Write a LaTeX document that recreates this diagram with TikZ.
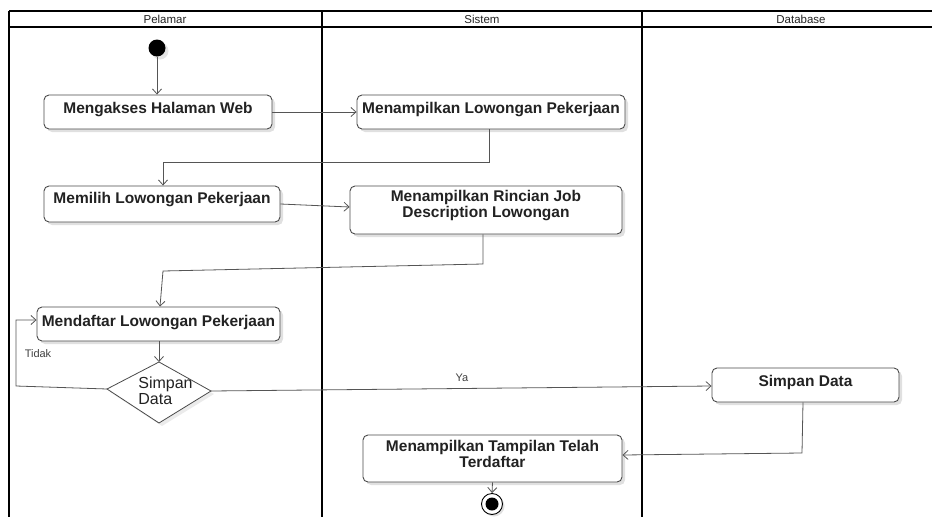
\documentclass[tikz,border=0pt]{standalone}
\usepackage{fontspec}
\setmainfont{Liberation Sans}
\usetikzlibrary{arrows.meta,shadows}
\definecolor{edge}{HTML}{555555}
\definecolor{boxline}{HTML}{4A4A4A}
\definecolor{ink}{HTML}{222222}
\begin{document}
\begin{tikzpicture}[x=1pt,y=-1pt,
  lane/.style={line width=2pt,black},
  act/.style={draw=boxline,line width=0.9pt,fill=white,rounded corners=5pt,
    inner sep=0pt,align=center,text=ink,
    font=\fontsize{15.5}{14}\selectfont\bfseries,
    drop shadow={shadow xshift=3pt,shadow yshift=-3pt,fill=black!12,opacity=1}},
  flow/.style={draw=edge,line width=0.8pt,-{Straight Barb[length=5pt,width=9pt]}},
  lanehead/.style={font=\fontsize{11.5}{13}\selectfont,text=ink},
  small/.style={font=\fontsize{11}{12}\selectfont,text=black!75}]
\useasboundingbox (0,0) rectangle (932,517);

% swimlanes
\draw[line width=1.5pt] (9,11) -- (932,11);
\draw[line width=1.5pt] (9,27) -- (932,27);
\draw[lane] (9,11) -- (9,517);
\draw[lane] (322,11) -- (322,517);
\draw[lane] (642,11) -- (642,517);
\node[lanehead] (hp) at (165,19) {Pelamar};
\node[lanehead] (hs) at (482,19) {Sistem};
\node[lanehead] (hd) at (801,19) {Database};

% start
\fill[black!10] (160,51) circle (8.5);
\node[circle,fill=black,minimum size=17pt,inner sep=0pt] (start) at (157,48) {};

% activities
\node[act,minimum width=228pt,text height=18pt,text depth=16pt] (akses) at (158,112) {Mengakses Halaman Web};
\node[act,minimum width=268pt,text height=18pt,text depth=16pt] (tampil) at (491,112) {Menampilkan Lowongan Pekerjaan};
\node[act,minimum width=236pt,text height=17pt,text depth=19pt] (pilih) at (162,204) {Memilih Lowongan Pekerjaan};
\node[act,minimum width=272pt,text height=31pt,text depth=17pt] (rincian) at (486,210) {Menampilkan Rincian Job\\Description Lowongan};
\node[act,minimum width=243pt,text height=19pt,text depth=15pt] (daftar) at (158.5,324) {Mendaftar Lowongan Pekerjaan};
\node[act,minimum width=187pt,text height=18pt,text depth=16pt] (simpan) at (805.5,385) {Simpan Data};
\node[act,minimum width=259pt,text height=32pt,text depth=15pt] (selesai) at (492.5,458.5) {Menampilkan Tampilan Telah\\Terdaftar};

% decision
\fill[black!8] (162,365) -- (214,394) -- (162,426) -- (110,392) -- cycle;
\draw[boxline,fill=white,line width=0.8pt] (159,362) coordinate (dtop) -- (211,391) coordinate (dright)
  -- (159,423) coordinate (dbot) -- (107,389) coordinate (dleft) -- cycle;
\node[font=\fontsize{16}{16}\selectfont,text=ink,align=left,inner sep=0pt] (dtext) at (165.5,391) {Simpan\\Data};

% end
\node[circle,draw=black,line width=0.9pt,fill=white,minimum size=21pt,inner sep=0pt,
  drop shadow={shadow xshift=2pt,shadow yshift=-2pt,fill=black!12,opacity=1}] (stop) at (492,504) {};
\fill[black] (stop.center) circle (6.5);

% connectors
\draw[flow] (start) -- (akses.north -| start);
\draw[flow] (akses.east) -- (tampil.west |- akses.east);
\draw[flow] (tampil.south -| 489,0) -- (489,162) -- (163,162) -- (pilih.north -| 163,0);
\draw[flow] (pilih.east) -- (rincian.west |- 0,207);
\draw[flow] (rincian.south -| 483,0) -- (483,264) -- (163,271) -- (daftar.north -| 160,0);
\draw[flow] (daftar.south -| dtop) -- (dtop);
\draw[flow] (dleft) -- (16,386) -- (16,320) -- (daftar.west |- 0,320);
\draw[flow] (dright) -- (simpan.west |- 0,386);
\draw[flow] (simpan.south -| 803,0) -- (802,453) -- (selesai.east |- 0,455);
\draw[flow] (selesai.south) -- (stop.north);

% guard labels
\node[small] (ltidak) at (38,354) {Tidak};
\node[small] (lya) at (462,378) {Ya};
\end{tikzpicture}
\end{document}
